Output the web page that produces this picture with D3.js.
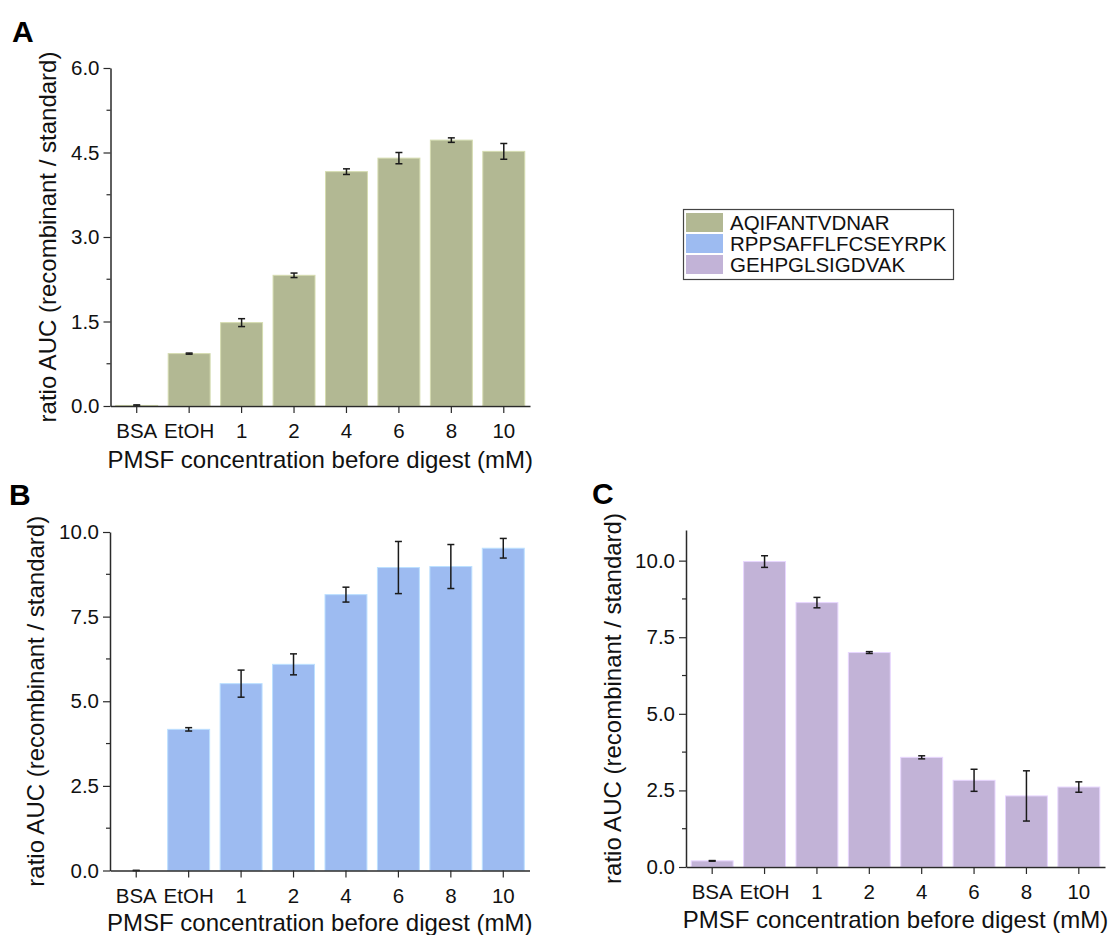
<!DOCTYPE html>
<html>
<head>
<meta charset="utf-8">
<script src="https://cdn.jsdelivr.net/npm/d3@7"></script>
<style>
  html, body { margin: 0; padding: 0; background: #fff; }
  svg { display: block; font-family: "Liberation Sans", Arial, sans-serif; }
</style>
</head>
<body>
<svg id="chart" width="1110" height="935"></svg>
<script>
// ---- data ----
const categories = ["BSA", "EtOH", "1", "2", "4", "6", "8", "10"];
const valuesA = [0.01, 0.93, 1.48, 2.32, 4.16, 4.40, 4.72, 4.52];
const errorsA = [0.01, 0.01, 0.07, 0.04, 0.05, 0.10, 0.04, 0.14];
const valuesB = [0.0, 4.17, 5.52, 6.09, 8.15, 8.95, 8.98, 9.52];
const errorsB = [0.0, 0.05, 0.40, 0.31, 0.22, 0.77, 0.65, 0.29];
const valuesC = [0.20, 9.97, 8.63, 7.00, 3.58, 2.83, 2.32, 2.61];
const errorsC = [0.01, 0.19, 0.17, 0.03, 0.05, 0.36, 0.82, 0.17];
const yTicksA = [0, 1.5, 3.0, 4.5, 6.0];
const yTicksB = [0, 2.5, 5.0, 7.5, 10.0];
const yTicksC = [0, 2.5, 5.0, 7.5, 10.0];
const legendLabels = ["AQIFANTVDNAR", "RPPSAFFLFCSEYRPK", "GEHPGLSIGDVAK"];
const colors = ["#b2b893", "#9dbbf1", "#c2b3d7"];
const yTitle = "ratio AUC (recombinant / standard)";
const xTitle = "PMSF concentration before digest (mM)";

const svg = d3.select("#chart");
const axisColor = "#2a2a2a";

function panel(cfg) {
  const g = svg.append("g");
  const x = d3.scaleBand().domain(categories).range([cfg.x0, cfg.x1])
    .paddingInner(0.2).paddingOuter(0.1);
  const y = d3.scaleLinear().domain(cfg.domain).range([cfg.yb, cfg.yt]);
  const data = categories.map((c, i) => ({c, v: cfg.values[i], e: cfg.errors[i]}));

  // bars
  g.selectAll("rect.bar").data(data).enter().append("rect")
    .attr("x", d => x(d.c)).attr("width", x.bandwidth())
    .attr("y", d => y(d.v)).attr("height", d => y(0) - y(d.v))
    .attr("fill", cfg.color)
    .attr("stroke", d3.color(cfg.color).brighter(0.5))
    .attr("stroke-width", 1);

  // error bars
  const eb = g.selectAll("g.err").data(data).enter().append("g")
    .attr("stroke", "#1a1a1a").attr("stroke-width", 1.5);
  const cx = d => x(d.c) + x.bandwidth() / 2;
  eb.append("line").attr("x1", cx).attr("x2", cx)
    .attr("y1", d => y(d.v + d.e)).attr("y2", d => y(d.v - d.e));
  eb.append("line").attr("x1", d => cx(d) - 3.5).attr("x2", d => cx(d) + 3.5)
    .attr("y1", d => y(d.v + d.e)).attr("y2", d => y(d.v + d.e));
  eb.append("line").attr("x1", d => cx(d) - 3.5).attr("x2", d => cx(d) + 3.5)
    .attr("y1", d => y(d.v - d.e)).attr("y2", d => y(d.v - d.e));

  // y axis
  const ya = d3.axisLeft(y).tickValues(cfg.ticks).tickFormat(d3.format(".1f"))
    .tickSizeInner(7).tickSizeOuter(0).tickPadding(4);
  const yg = g.append("g").attr("transform", `translate(${cfg.x0},0)`).call(ya);
  // minor ticks
  const minor = [];
  for (let i = 0; i < cfg.ticks.length - 1; i++) minor.push((cfg.ticks[i] + cfg.ticks[i + 1]) / 2);
  yg.selectAll("line.minor").data(minor).enter().append("line")
    .attr("x1", 0).attr("x2", -4).attr("y1", d => y(d)).attr("y2", d => y(d))
    .attr("stroke", axisColor).attr("stroke-width", 1.2);

  // x axis
  const xa = d3.axisBottom(x).tickSizeInner(7).tickSizeOuter(0).tickPadding(6);
  const xg = g.append("g").attr("transform", `translate(0,${cfg.yb})`).call(xa);

  [yg, xg].forEach(a => {
    a.select(".domain").attr("stroke", axisColor).attr("stroke-width", 1.5);
    a.selectAll(".tick line").attr("stroke", axisColor).attr("stroke-width", 1.2);
    a.selectAll("text").attr("font-size", 20.5).attr("fill", "#111")
      .attr("font-family", "Liberation Sans, Arial, sans-serif");
  });
  xg.selectAll(".tick text").attr("dy", "0.95em");

  // titles
  g.append("text")
    .attr("transform", `translate(${cfg.ylx},${(cfg.yt + cfg.yb) / 2}) rotate(-90)`)
    .attr("text-anchor", "middle").attr("font-size", 24).attr("fill", "#111")
    .text(yTitle);
  g.append("text")
    .attr("x", (cfg.x0 + cfg.x1) / 2).attr("y", cfg.yb + cfg.xtOff)
    .attr("text-anchor", "middle").attr("font-size", 24).attr("fill", "#111")
    .text(xTitle);
  // panel letter
  g.append("text").attr("x", cfg.lx).attr("y", cfg.ly)
    .attr("font-size", 30).attr("font-weight", "bold").attr("fill", "#000")
    .text(cfg.letter);
}

panel({letter: "A", lx: 12, ly: 42, x0: 110.5, x1: 530, yt: 68, yb: 406, domain: [0, 6],
  values: valuesA, errors: errorsA, ticks: yTicksA, color: colors[0], ylx: 56, xtOff: 62});
panel({letter: "B", lx: 9, ly: 505, x0: 110, x1: 529.5, yt: 532, yb: 870.5, domain: [0, 10],
  values: valuesB, errors: errorsB, ticks: yTicksB, color: colors[1], ylx: 44, xtOff: 60});
panel({letter: "C", lx: 592, ly: 504, x0: 686, x1: 1105, yt: 530, yb: 867, domain: [0, 11],
  values: valuesC, errors: errorsC, ticks: yTicksC, color: colors[2], ylx: 621, xtOff: 61});

// legend
const lg = svg.append("g");
lg.append("rect").attr("x", 683.5).attr("y", 209.5).attr("width", 270).attr("height", 70)
  .attr("fill", "#fff").attr("stroke", "#444").attr("stroke-width", 1.2);
const rows = lg.selectAll("g.row").data(legendLabels).enter().append("g")
  .attr("transform", (d, i) => `translate(686,${213 + i * 21})`);
rows.append("rect").attr("width", 37).attr("height", 19)
  .attr("fill", (d, i) => colors[i]);
rows.append("text").attr("x", 44).attr("y", 16.5).attr("font-size", 20.5).attr("fill", "#111")
  .text(d => d);
</script>
</body>
</html>
